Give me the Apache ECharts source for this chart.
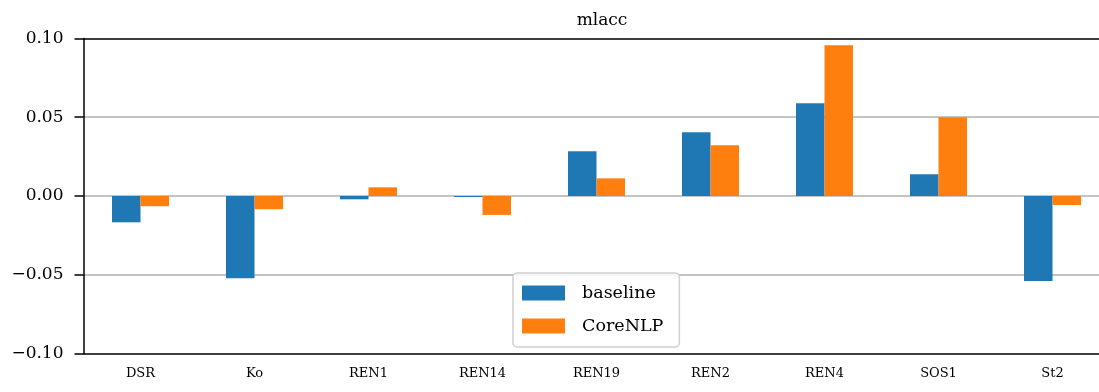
<!DOCTYPE html>
<html>
<head>
<meta charset="utf-8">
<script src="https://cdn.jsdelivr.net/npm/echarts@6/dist/echarts.min.js"></script>
<style>html,body{margin:0;padding:0;background:#fff;overflow:hidden;width:1099px;height:392px;}#c{width:1120px;height:392px;}</style>
</head>
<body>
<div id="c"></div>
<script>
const categories = ['DSR', 'Ko', 'REN1', 'REN14', 'REN19', 'REN2', 'REN4', 'SOS1', 'St2'];
const baseline = [-0.0167, -0.0522, -0.0021, -0.0006, 0.0284, 0.0404, 0.0589, 0.0138, -0.0540];
const corenlp = [-0.0065, -0.0084, 0.0055, -0.0120, 0.0112, 0.0322, 0.0957, 0.0500, -0.0057];
const yTicks = [-0.10, -0.05, 0.00, 0.05, 0.10];

const FONT = '"DejaVu Serif", "Liberation Serif", serif';
const chart = echarts.init(document.getElementById('c'));
chart.setOption({
  animation: false,
  backgroundColor: '#fff',
  title: {
    text: 'mlacc', left: 597, top: 7, textAlign: 'center',
    textStyle: { fontFamily: FONT, fontWeight: 'normal', fontSize: 17, color: '#000' }
  },
  grid: {
    left: 83.5, top: 38.5, width: 1026, height: 315,
    show: false
  },
  legend: {
    left: 513, top: 273, orient: 'vertical',
    itemWidth: 43, itemHeight: 15, itemGap: 15,
    padding: [11, 16, 12, 9],
    borderColor: '#d0d0d0', borderWidth: 1.5, borderRadius: 4,
    backgroundColor: 'rgba(255,255,255,0.85)',
    icon: 'rect',
    textStyle: { fontFamily: FONT, fontSize: 17.5, color: '#000', padding: [0, 0, 0, 12] },
    data: ['baseline', 'CoreNLP']
  },
  xAxis: [{
    type: 'category', data: categories, boundaryGap: true,
    axisLine: { onZero: false, lineStyle: { color: '#000', width: 1.5 } },
    axisTick: { alignWithLabel: true, length: 8, lineStyle: { color: '#000', width: 1.5 } },
    axisLabel: { fontFamily: FONT, fontSize: 13, color: '#000', margin: 14 },
    splitLine: { show: false }
  }, {
    type: 'category', data: categories, position: 'top',
    axisLine: { onZero: false, lineStyle: { color: '#000', width: 1.5 } },
    axisTick: { show: false }, axisLabel: { show: false }, splitLine: { show: false }
  }],
  yAxis: {
    type: 'value', min: -0.10, max: 0.10, interval: 0.05,
    axisLine: { show: true, onZero: false, lineStyle: { color: '#000', width: 1.5 } },
    axisTick: { show: true, length: 9, lineStyle: { color: '#000', width: 1.5 } },
    axisLabel: {
      fontFamily: FONT, fontSize: 17, color: '#000', margin: 20,
      formatter: v => v.toFixed(2).replace('-', '\u2212')
    },
    splitLine: { show: true, showMinLine: false, showMaxLine: false, lineStyle: { color: '#b0b0b0', width: 1.5 } }
  },
  series: [
    { name: 'baseline', type: 'bar', data: baseline, barWidth: '25%', barGap: '0%',
      itemStyle: { color: '#1f77b4' } },
    { name: 'CoreNLP', type: 'bar', data: corenlp, barWidth: '25%', barGap: '0%',
      itemStyle: { color: '#ff7f0e' } }
  ]
});
</script>
</body>
</html>
